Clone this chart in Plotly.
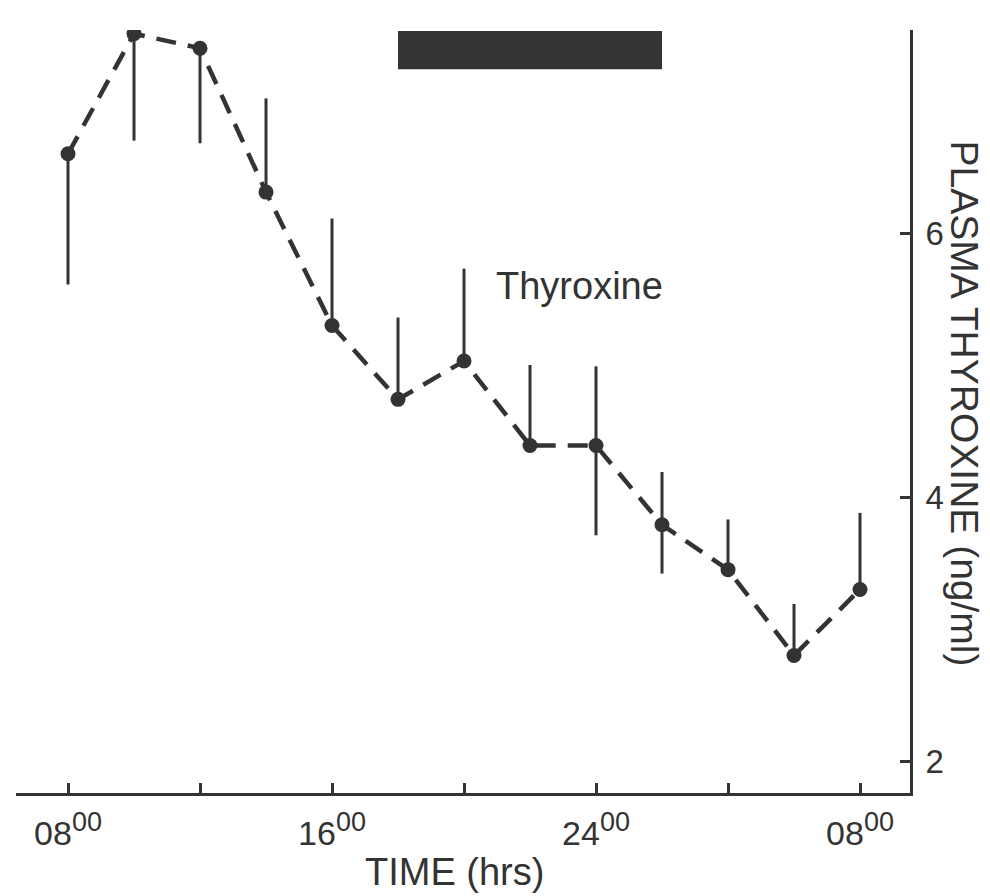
import plotly.graph_objects as go

# Data
hours = [8, 10, 12, 14, 16, 18, 20, 22, 24, 26, 28, 30, 32]
thyroxine = [6.60, 7.51, 7.40, 6.31, 5.30, 4.74, 5.03, 4.39, 4.39, 3.79, 3.45, 2.80, 3.30]
err_plus = [0, 0, 0, 0.71, 0.81, 0.62, 0.70, 0.61, 0.60, 0.40, 0.38, 0.39, 0.58]
err_minus = [0.99, 0.81, 0.72, 0, 0, 0, 0, 0, 0.68, 0.37, 0, 0, 0]
x_tickvals = [8, 16, 24, 32]
x_minor_tickvals = [12, 20, 28]
x_hours_text = ["08", "16", "24", "08"]
x_minutes_text = ["00", "00", "00", "00"]
y_tickvals = [2, 4, 6]
dark_start, dark_end = 18, 26
dark_bar_y = [7.24, 7.53]

INK = "#333333"
FONT = "Liberation Sans, Arial, sans-serif"

x_ticktext = [f"{h}<sup style='font-size:13px'><span style='font-size:27px'>{m}</span></sup>"
              for h, m in zip(x_hours_text, x_minutes_text)]

fig = go.Figure()
fig.add_trace(go.Scatter(
    x=hours, y=thyroxine,
    mode="lines+markers",
    line=dict(color=INK, width=4.5, dash="20px,12px"),
    marker=dict(color=INK, size=15),
    error_y=dict(type="data", symmetric=False, array=err_plus, arrayminus=err_minus,
                 color=INK, thickness=3, width=0),
    showlegend=False,
))

fig.add_shape(type="rect", xref="x", yref="y",
              x0=dark_start, x1=dark_end, y0=dark_bar_y[0], y1=dark_bar_y[1],
              fillcolor=INK, line=dict(width=0), layer="above")

fig.add_annotation(x=23.5, y=5.6, xref="x", yref="y", text="Thyroxine",
                   showarrow=False, font=dict(family=FONT, size=38, color=INK))
fig.add_annotation(x=1.087, y=0.51, xref="paper", yref="paper",
                   text="PLASMA THYROXINE (ng/ml)", textangle=90, showarrow=False,
                   font=dict(family=FONT, size=39, color=INK))
fig.add_annotation(x=0.49, y=-0.134, xref="paper", yref="paper",
                   text="TIME (hrs)", showarrow=False,
                   font=dict(family=FONT, size=38, color=INK))

fig.update_layout(
    width=990, height=896,
    margin=dict(l=8, r=88, t=22, b=111),
    paper_bgcolor="white", plot_bgcolor="white",
    font=dict(family=FONT, color=INK),
    xaxis=dict(range=[6.424, 33.515], tickvals=x_tickvals, ticktext=x_ticktext,
               showgrid=False, zeroline=False, showline=True, linecolor=INK, linewidth=3,
               ticks="inside", ticklen=10, tickwidth=2.5, tickcolor=INK,
               ticklabelstandoff=8,
               minor=dict(tickvals=x_minor_tickvals, ticks="inside", ticklen=10,
                          tickwidth=2.5, tickcolor=INK, showgrid=False),
               tickfont=dict(size=34, family=FONT, color=INK)),
    yaxis=dict(range=[1.758, 7.538], side="right", tickvals=y_tickvals,
               showgrid=False, zeroline=False, showline=True, linecolor=INK, linewidth=3,
               ticks="inside", ticklen=10, tickwidth=2.5, tickcolor=INK,
               ticklabelstandoff=6,
               tickfont=dict(size=33, family=FONT, color=INK)),
)

fig.write_html("out.html")
